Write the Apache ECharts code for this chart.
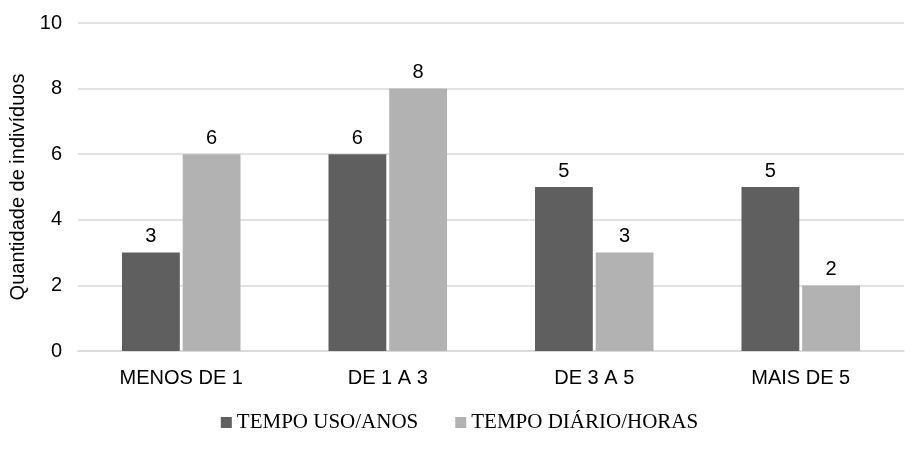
<!DOCTYPE html>
<html><head><meta charset="utf-8">
<script src="https://cdn.jsdelivr.net/npm/echarts@6/dist/echarts.min.js"></script>
<style>html,body{margin:0;padding:0;background:#fff}#c{width:919px;height:449px}</style>
</head><body><div id="c"></div>
<script>
const categories = ['MENOS DE 1', 'DE 1 A 3', 'DE 3 A 5', 'MAIS DE 5'];
const usoAnos = [3, 6, 5, 5];
const diarioHoras = [6, 8, 3, 2];
const seriesNames = ['TEMPO USO/ANOS', 'TEMPO DIÁRIO/HORAS'];
const yTicks = {min: 0, max: 10, interval: 2};

const chart = echarts.init(document.getElementById('c'));
const lbl = {show: true, position: 'top', color: '#000', fontSize: 20, fontFamily: 'Liberation Sans, Arial', distance: 6};
chart.setOption({
  animation: false,
  textStyle: {fontFamily: 'Liberation Sans, Arial'},
  grid: {left: 76, right: 15, top: 23, bottom: 98},
  legend: {
    top: 407, left: 'center', itemWidth: 11, itemHeight: 11, itemGap: 37,
    icon: 'rect',
    textStyle: {fontFamily: 'Liberation Serif, Times New Roman', fontSize: 21, color: '#000'},
    data: seriesNames
  },
  xAxis: {
    type: 'category', data: categories,
    axisLine: {lineStyle: {color: '#d9d9d9', width: 1.5}},
    axisTick: {show: false},
    axisLabel: {color: '#000', fontSize: 20, margin: 17}
  },
  yAxis: {
    type: 'value', min: yTicks.min, max: yTicks.max, interval: yTicks.interval,
    name: 'Quantidade de indivíduos', nameLocation: 'middle', nameGap: 50,
    nameTextStyle: {color: '#000', fontSize: 20},
    axisLine: {show: false}, axisTick: {show: false},
    axisLabel: {color: '#000', fontSize: 20, margin: 16},
    splitLine: {lineStyle: {color: '#d9d9d9', width: 1.5}}
  },
  series: [
    {name: seriesNames[0], type: 'bar', data: usoAnos, barWidth: '28%', barGap: '5%', itemStyle: {color: '#5f5f5f'}, label: lbl},
    {name: seriesNames[1], type: 'bar', data: diarioHoras, barWidth: '28%', itemStyle: {color: '#b2b2b2'}, label: lbl}
  ]
});
</script></body></html>
